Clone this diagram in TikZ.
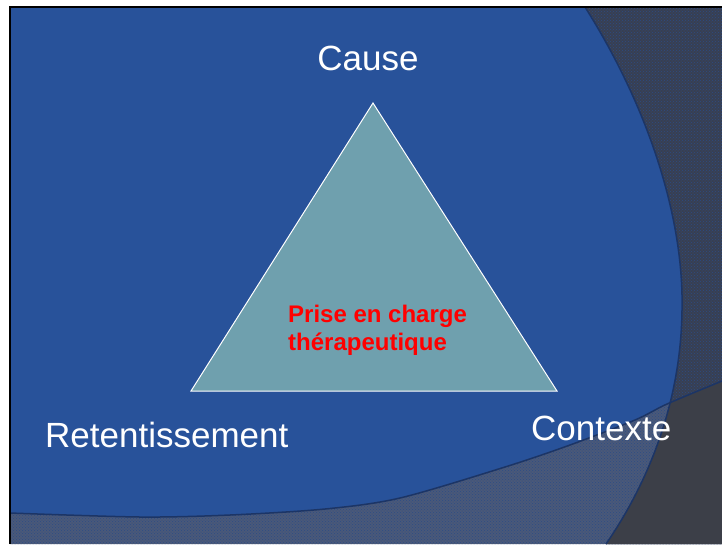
\documentclass[tikz,border=0pt]{standalone}
\usepackage{fontspec}
\setmainfont{Liberation Sans}
\usetikzlibrary{patterns}

\definecolor{slideblue}{HTML}{28529A}
\definecolor{darkzone}{HTML}{383F52}
\definecolor{lowzone}{HTML}{4A5979}
\definecolor{overlap}{HTML}{3C3F48}
\definecolor{rimblue}{HTML}{1C3566}
\definecolor{trifill}{HTML}{6FA0AE}

\begin{document}
\begin{tikzpicture}[x=1pt,y=-1pt]
\tikzstyle{cornertext}=[text=white,font=\fontsize{35}{42}\selectfont,inner sep=0pt]
\tikzstyle{rim}=[draw=rimblue,line width=1.5pt]
\tikzstyle{grain}=[pattern=crosshatch dots,pattern color=slideblue!70!darkzone]
\useasboundingbox (0,0) rectangle (722,544);
\fill[white] (0,0) rectangle (722,544);
\fill[slideblue] (10,7) rectangle (722,544);

% lower band
\fill[lowzone] plot[smooth] coordinates {(10,513) (140,517) (230,515) (325,509) (400,498) (505,467) (570,445) (635,420) (667,404) (722,381)} -- (722,544) -- (10,544) -- cycle;
% right band
\fill[darkzone] (585,7) .. controls (650,110) and (684,220) .. (682,310) .. controls (681,400) and (650,480) .. (606,544) -- (722,544) -- (722,7) -- cycle;
% dotted grain on both bands
\fill[grain] plot[smooth] coordinates {(10,513) (140,517) (230,515) (325,509) (400,498) (505,467) (570,445) (635,420) (667,404) (722,381)} -- (722,544) -- (10,544) -- cycle;
\fill[grain] (585,7) .. controls (650,110) and (684,220) .. (682,310) .. controls (681,400) and (650,480) .. (606,544) -- (722,544) -- (722,7) -- cycle;
% where both bands meet
\begin{scope}
\clip (585,7) .. controls (650,110) and (684,220) .. (682,310) .. controls (681,400) and (650,480) .. (606,544) -- (722,544) -- (722,7) -- cycle;
\fill[overlap] plot[smooth] coordinates {(10,513) (140,517) (230,515) (325,509) (400,498) (505,467) (570,445) (635,420) (667,404) (722,381)} -- (722,544) -- (10,544) -- cycle;
\end{scope}
\draw[rim] plot[smooth] coordinates {(10,513) (140,517) (230,515) (325,509) (400,498) (505,467) (570,445) (635,420) (667,404) (722,381)};
\draw[rim] (585,7) .. controls (650,110) and (684,220) .. (682,310) .. controls (681,400) and (650,480) .. (606,544);

% frame
\draw[line width=2.5pt] (10,544) -- (10,7) -- (722,7);

% triangle
\coordinate (top) at (373,103);
\coordinate (left) at (191,391);
\coordinate (right) at (557,391);
\draw[white,fill=trifill,line width=1pt] (top) -- (left) -- (right) -- cycle;

\node[cornertext,anchor=base] (cause) at (368,70) {Cause};
\node[cornertext,anchor=base west] (retent) at (45,447) {Retentissement};
\node[cornertext,anchor=base west] (contexte) at (531,440) {Contexte};
\node[text=red,font=\bfseries\fontsize{24}{28}\selectfont,align=left,anchor=north west,inner sep=0pt] (prise) at (288,304.5) {Prise en charge\\thérapeutique};
\end{tikzpicture}
\end{document}
